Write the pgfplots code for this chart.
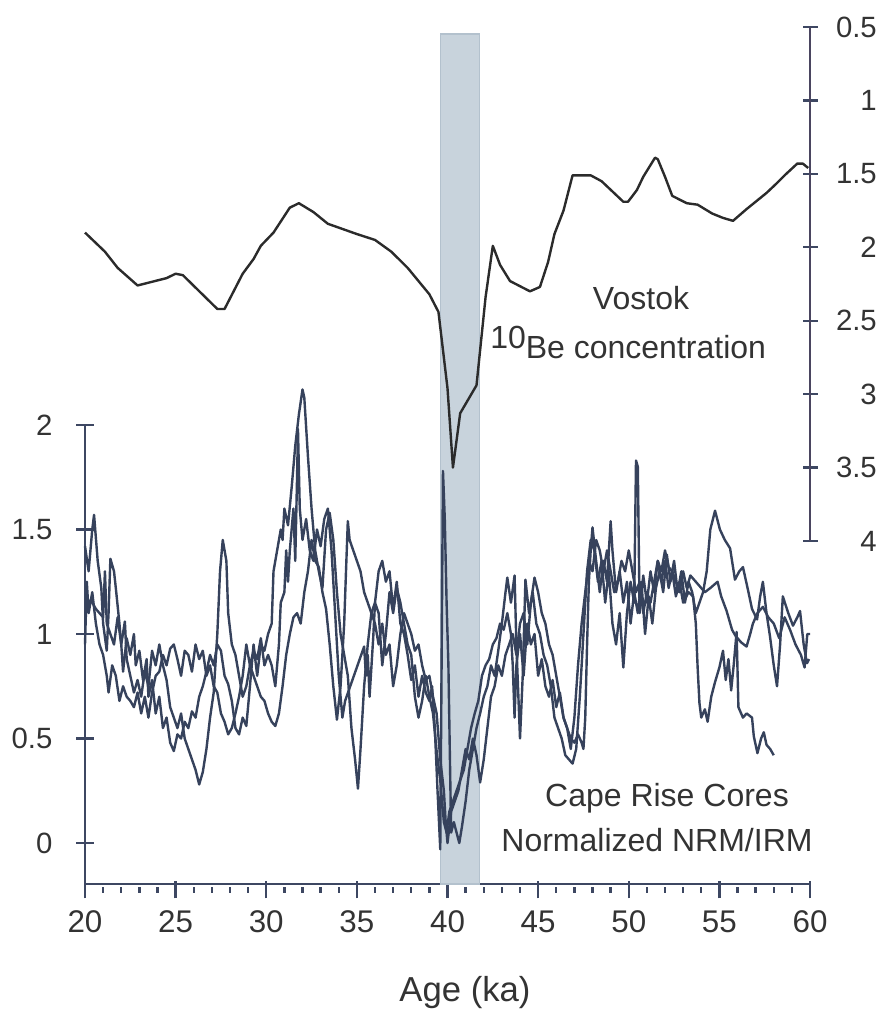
\documentclass[border=0pt]{standalone}
\usepackage{pgfplots}
\pgfplotsset{compat=1.18}
\usepackage{fontspec}
\setmainfont{Liberation Sans}
\definecolor{navy}{HTML}{36425C}
\definecolor{axisc}{HTML}{3D4762}
\definecolor{raxis}{HTML}{4A4560}
\definecolor{bandc}{HTML}{C8D3DC}
\definecolor{bandedge}{HTML}{B3C1CD}
\definecolor{textc}{HTML}{333333}
\definecolor{vost}{HTML}{2B2B2B}
\begin{document}
\begin{tikzpicture}
\path[use as bounding box] (0,0) rectangle (660pt,756.75pt);
\begin{axis}[
  at={(63.75pt,93.75pt)}, anchor=south west,
  width=543.75pt, height=344.25pt, scale only axis,
  xmin=20, xmax=60, ymin=-0.196, ymax=2,
  axis x line=bottom, axis y line=left,
  axis line style={-, draw=axisc, line width=2.2pt},
  xtick={20,25,...,60}, minor x tick num=4,
  ytick={0,0.5,1,1.5,2},
  major tick length=12.75pt, minor tick length=4.5pt,
  tick style={draw=axisc, line width=1.8pt},
  every x tick/.append style={yshift=-4.5pt},
  /pgf/number format/assume math mode=true,
  xticklabel style={font=\fontsize{23.5}{27}\selectfont, text=textc, yshift=-10pt},
  yticklabel style={font=\fontsize{22}{26}\selectfont, text=textc, xshift=-14.5pt},
  clip=false,
]
\addplot[fill=bandc, draw=bandedge, line width=1pt] coordinates {(39.62,-0.196) (41.75,-0.196) (41.75,3.87) (39.62,3.87)} -- cycle;
% Series 1
\addplot[navy, line width=1.8pt, line join=round] coordinates {
(20.0,1.42) (20.2,1.30) (20.4,1.50) (20.5,1.57) (20.7,1.35) (20.9,1.22) (21.0,1.05) (21.2,0.92) (21.3,1.10) (21.4,1.36) (21.6,1.30) (21.7,1.22) (21.9,1.05) (22.0,0.95) (22.1,0.82) (22.3,0.98) (22.5,0.90) (22.7,1.00) (22.8,0.85) (23.0,0.92) (23.2,0.78) (23.4,0.88) (23.5,0.70) (23.7,0.78) (23.9,0.62) (24.1,0.70) (24.3,0.55) (24.5,0.60) (24.7,0.48) (24.9,0.44) (25.1,0.52) (25.3,0.50) (25.5,0.58) (25.7,0.55) (25.9,0.63) (26.1,0.60) (26.3,0.70) (26.5,0.75) (26.7,0.82) (26.9,0.90) (27.1,0.85) (27.3,0.95) (27.5,0.92) (27.7,0.80) (27.9,0.76) (28.1,0.68) (28.3,0.55) (28.5,0.52) (28.7,0.60) (28.9,0.56) (29.1,0.75) (29.3,0.95) (29.5,0.80) (29.7,0.95) (29.9,0.92) (30.1,1.00) (30.3,1.05) (30.4,1.30) (30.6,1.40) (30.8,1.50) (30.9,1.45) (31.0,1.60) (31.2,1.52) (31.4,1.70) (31.6,1.90) (31.8,2.05) (32.0,2.17) (32.1,2.13) (32.3,1.85) (32.5,1.60) (32.7,1.40) (32.9,1.30) (33.1,1.22) (33.3,1.50) (33.5,1.58) (33.7,1.45) (33.9,1.20) (34.1,1.00) (34.3,0.90) (34.5,0.80) (34.7,0.55) (34.9,0.40) (35.06,0.26) (35.2,0.45) (35.4,0.75) (35.6,0.95) (35.8,1.10) (36.0,1.15) (36.2,1.30) (36.4,1.35) (36.6,1.25) (36.8,1.30) (37.0,1.12) (37.2,1.25) (37.4,1.05) (37.6,1.00) (37.8,0.90) (38.0,0.78) (38.2,0.85) (38.4,0.70) (38.6,0.80) (38.8,0.72) (39.0,0.68) (39.15,0.75) (39.3,0.55) (39.45,0.25) (39.6,-0.03) (39.75,1.78) (39.85,1.55) (39.95,1.15) (40.05,0.85) (40.2,0.05) (40.35,0.10) (40.5,0.05) (40.65,0.0) (40.8,0.08) (41.0,0.20) (41.2,0.35) (41.4,0.45) (41.6,0.55) (41.8,0.62) (42.0,0.70) (42.2,0.75) (42.4,0.85) (42.6,0.80) (42.8,0.92) (43.0,1.05) (43.2,1.20) (43.3,1.27) (43.5,1.15) (43.7,1.28) (43.8,0.95) (44.0,0.50) (44.15,0.80) (44.3,1.26) (44.5,1.10) (44.7,1.20) (44.9,1.05) (45.1,1.00) (45.3,0.90) (45.5,0.85) (45.7,0.75) (45.9,0.60) (46.1,0.55) (46.3,0.50) (46.5,0.42) (46.7,0.40) (46.9,0.38) (47.1,0.45) (47.3,0.70) (47.5,1.00) (47.7,1.30) (47.9,1.45) (48.1,1.40) (48.3,1.25) (48.5,1.35) (48.7,1.15) (48.9,1.30) (49.1,1.05) (49.3,0.95) (49.5,1.10) (49.7,0.84) (49.9,1.10) (50.1,1.25) (50.3,1.15) (50.4,1.83) (50.5,1.80) (50.6,1.10) (50.8,1.28) (51.0,1.15) (51.2,1.30) (51.4,1.20) (51.6,1.35) (51.8,1.25) (52.0,1.35) (52.2,1.22) (52.4,1.30) (52.6,1.18) (52.8,1.25) (53.0,1.15) (53.3,1.20) (53.55,1.18) (53.7,1.05) (53.8,0.84) (53.9,0.67) (54.0,0.60) (54.2,0.64) (54.35,0.58) (54.55,0.70) (54.76,0.77) (55.0,0.84) (55.2,0.92) (55.35,0.78) (55.5,0.88) (55.65,0.73) (55.8,0.86) (55.95,1.01) (56.05,0.65) (56.3,0.60) (56.5,0.62) (56.8,0.60) (56.9,0.51) (57.1,0.43) (57.3,0.50) (57.45,0.53) (57.6,0.47) (57.8,0.45) (58.0,0.42)
};
% Series 2
\addplot[navy, line width=1.8pt, line join=round] coordinates {
(20.0,1.16) (20.2,1.16) (20.4,1.15) (20.6,1.12) (20.8,1.10) (21.0,1.08) (21.1,1.30) (21.2,1.05) (21.4,1.00) (21.6,0.95) (21.8,1.08) (22.0,0.95) (22.2,1.06) (22.3,0.88) (22.5,0.80) (22.7,0.72) (22.9,0.78) (23.1,0.70) (23.3,0.82) (23.5,0.75) (23.7,0.92) (23.9,0.85) (24.1,0.95) (24.3,0.85) (24.5,0.78) (24.7,0.65) (24.9,0.60) (25.1,0.55) (25.3,0.62) (25.5,0.50) (25.7,0.45) (25.9,0.40) (26.1,0.35) (26.3,0.28) (26.5,0.34) (26.7,0.45) (26.9,0.60) (27.1,0.72) (27.3,1.00) (27.45,1.30) (27.6,1.45) (27.8,1.35) (27.9,1.10) (28.1,0.95) (28.3,0.90) (28.5,0.80) (28.7,0.70) (28.9,0.75) (29.1,0.85) (29.3,0.92) (29.5,0.88) (29.7,0.98) (29.9,0.85) (30.1,0.90) (30.3,0.85) (30.5,0.75) (30.7,0.95) (30.8,1.15) (31.0,1.20) (31.1,1.40) (31.2,1.25) (31.3,1.40) (31.5,1.60) (31.6,1.35) (31.7,1.75) (31.75,1.98) (31.85,1.60) (32.0,1.45) (32.2,1.55) (32.4,1.40) (32.6,1.35) (32.8,1.50) (33.0,1.42) (33.2,1.55) (33.4,1.60) (33.6,1.40) (33.8,1.10) (34.0,0.80) (34.2,0.60) (34.35,0.68) (35.4,0.94) (35.5,0.80) (35.6,0.90) (35.7,0.70) (35.9,0.98) (36.0,1.15) (36.2,1.10) (36.4,0.85) (36.6,1.00) (36.8,1.20) (37.0,1.10) (37.2,1.22) (37.4,1.15) (37.6,1.05) (37.8,0.95) (38.0,0.90) (38.2,0.70) (38.4,0.60) (38.6,0.68) (38.8,0.80) (39.0,0.70) (39.2,0.62) (39.4,0.44) (39.6,0.30) (39.8,0.10) (39.95,0.05) (40.1,0.15) (40.3,0.20) (40.5,0.25) (40.7,0.30) (40.9,0.35) (41.1,0.45) (41.3,0.55) (41.5,0.62) (41.7,0.68) (41.9,0.80) (42.1,0.85) (42.3,0.88) (42.5,0.95) (42.7,0.98) (42.9,1.05) (43.1,1.02) (43.3,1.10) (43.5,1.00) (43.6,0.85) (43.7,0.60) (43.8,0.85) (44.0,1.00) (44.2,0.80) (44.4,1.05) (44.6,0.95) (44.8,1.00) (45.0,0.80) (45.2,0.88) (45.4,0.75) (45.6,0.70) (45.8,0.78) (46.0,0.65) (46.2,0.72) (46.4,0.60) (46.6,0.55) (46.8,0.50) (47.0,0.48) (47.2,0.52) (47.4,0.48) (47.5,0.45) (47.6,0.60) (47.7,0.95) (47.8,1.25) (47.9,1.40) (48.0,1.51) (48.2,1.35) (48.4,1.20) (48.6,1.35) (48.8,1.25) (49.0,1.54) (49.1,1.40) (49.3,1.20) (49.5,1.30) (49.7,1.15) (49.9,1.25) (50.1,1.05) (50.3,1.20) (50.5,1.10) (50.7,1.25) (50.9,1.00) (51.1,1.18) (51.3,1.05) (51.5,1.22) (51.7,1.30) (51.9,1.20) (52.1,1.38) (52.3,1.25) (52.5,1.35) (52.7,1.20) (52.9,1.30) (53.1,1.15) (53.3,1.25) (53.5,1.20) (53.7,1.10) (53.9,1.15) (54.1,1.20) (54.3,1.30) (54.5,1.50) (54.76,1.59) (55.03,1.50) (55.3,1.45) (55.59,1.41) (55.86,1.26) (56.1,1.30) (56.3,1.32) (56.58,1.21) (56.8,1.12) (57.08,1.07) (57.25,1.18) (57.4,1.25) (57.6,1.10) (57.79,0.99) (58.0,0.85) (58.18,0.75) (58.35,0.95) (58.5,1.18) (58.8,1.10) (59.06,1.04) (59.3,1.08) (59.45,1.11) (59.65,0.95) (59.83,0.86) (59.95,0.88)
};
% Series 3
\addplot[navy, line width=1.8pt, line join=round] coordinates {
(20.0,0.95) (20.1,1.25) (20.2,1.10) (20.4,1.20) (20.6,1.05) (20.8,0.95) (21.0,0.90) (21.2,0.80) (21.3,0.72) (21.5,0.85) (21.7,0.80) (21.9,0.68) (22.1,0.75) (22.3,0.70) (22.5,0.68) (22.7,0.65) (22.9,0.72) (23.1,0.62) (23.3,0.70) (23.5,0.60) (23.7,0.72) (23.9,0.80) (24.1,0.82) (24.3,0.90) (24.5,0.85) (24.7,0.93) (24.9,0.95) (25.1,0.88) (25.3,0.80) (25.5,0.92) (25.7,0.90) (25.9,0.82) (26.1,0.95) (26.3,0.88) (26.5,0.92) (26.7,0.80) (26.9,0.85) (27.1,0.75) (27.3,0.72) (27.5,0.62) (27.7,0.58) (27.9,0.52) (28.1,0.55) (28.3,0.62) (28.5,0.70) (28.7,0.80) (28.9,0.95) (29.1,0.85) (29.3,0.80) (29.5,0.75) (29.7,0.70) (29.9,0.68) (30.1,0.62) (30.3,0.58) (30.5,0.56) (30.7,0.62) (30.9,0.75) (31.1,0.90) (31.3,1.00) (31.5,1.08) (31.7,1.10) (31.9,1.05) (32.1,1.20) (32.3,1.30) (32.5,1.45) (32.7,1.35) (32.9,1.32) (33.1,1.20) (33.3,1.12) (33.5,0.95) (33.7,0.75) (33.9,0.59) (34.1,0.75) (34.3,1.05) (34.4,1.30) (34.5,1.54) (34.6,1.45) (34.8,1.40) (35.0,1.35) (35.2,1.30) (35.4,1.20) (35.6,1.15) (35.8,1.10) (36.0,1.05) (36.2,0.95) (36.4,1.05) (36.6,0.90) (36.8,0.95) (37.0,0.75) (37.2,0.85) (37.4,1.00) (37.6,1.10) (37.8,1.05) (38.0,1.00) (38.2,0.92) (38.4,0.95) (38.6,0.85) (38.8,0.78) (39.0,0.80) (39.2,0.70) (39.4,0.62) (39.6,0.40) (39.8,0.25) (39.9,0.10) (40.0,0.0) (40.2,0.15) (40.4,0.20) (40.6,0.25) (40.8,0.35) (41.0,0.45) (41.2,0.40) (41.4,0.50) (41.6,0.42) (41.8,0.29) (42.0,0.40) (42.2,0.55) (42.4,0.70) (42.6,0.75) (42.8,0.85) (43.0,0.80) (43.2,0.90) (43.4,0.95) (43.6,1.00) (43.8,0.90) (44.0,1.05) (44.2,1.10) (44.4,0.95) (44.6,1.15) (44.8,1.27) (45.0,1.20) (45.2,1.10) (45.4,1.05) (45.6,0.95) (45.8,0.90) (46.0,0.80) (46.2,0.70) (46.4,0.60) (46.6,0.55) (46.8,0.45) (47.0,0.60) (47.2,0.85) (47.4,1.05) (47.6,1.20) (47.8,1.35) (48.0,1.30) (48.2,1.45) (48.4,1.40) (48.6,1.30) (48.8,1.40) (49.0,1.30) (49.2,1.20) (49.4,1.25) (49.6,1.35) (49.8,1.30) (50.0,1.40) (50.2,1.30) (50.4,1.20) (50.6,1.25) (50.8,1.10) (51.0,1.20) (51.2,1.15) (51.4,1.25) (51.6,1.35) (51.8,1.30) (52.0,1.40) (52.2,1.32) (52.4,1.30) (52.6,1.25) (52.8,1.20) (53.0,1.30) (53.2,1.22) (53.4,1.28) (53.8,1.24) (54.2,1.20) (54.5,1.22) (54.9,1.25) (55.1,1.18) (55.4,1.11) (55.7,1.02) (55.9,0.99) (56.2,0.96) (56.5,0.94) (56.7,1.00) (56.85,1.05) (57.1,1.10) (57.4,1.13) (57.7,1.08) (58.0,1.05) (58.3,0.98) (58.6,1.08) (58.9,1.02) (59.2,0.95) (59.5,0.90) (59.7,0.84) (59.85,1.00) (60.0,1.00)
};
\end{axis}
\begin{axis}[
  at={(63.75pt,351pt)}, anchor=south west,
  width=543.75pt, height=385.5pt, scale only axis,
  xmin=20, xmax=60, ymin=0.5, ymax=4, y dir=reverse,
  axis x line=none, axis y line=right,
  axis line style={-, draw=raxis, line width=2.2pt},
  ytick={0.5,1,1.5,2,2.5,3,3.5,4},
  major tick length=11.25pt,
  tick style={draw=axisc, line width=1.8pt},
  /pgf/number format/assume math mode=true,
  yticklabel style={font=\fontsize{22}{26}\selectfont, text=textc, anchor=east, xshift=48pt},
  clip=false,
]
\addplot[vost, line width=1.8pt, line join=round] coordinates {
(20.0,1.90) (21.1,2.03) (21.8,2.14) (22.9,2.26) (24.5,2.21) (25.0,2.18) (25.4,2.19) (27.3,2.42) (27.7,2.42) (28.7,2.18) (29.3,2.08) (29.7,1.99) (30.4,1.90) (31.3,1.73) (31.8,1.70) (32.6,1.76) (33.4,1.84) (35.0,1.91) (36.0,1.95) (36.9,2.03) (37.8,2.14) (38.6,2.26) (39.0,2.32) (39.5,2.44) (40.0,2.96) (40.3,3.50) (40.7,3.13) (41.6,2.94) (42.1,2.34) (42.5,1.99) (42.9,2.12) (43.45,2.23) (44.55,2.30) (45.1,2.27) (45.55,2.10) (45.9,1.91) (46.4,1.75) (46.9,1.51) (47.9,1.51) (48.5,1.55) (49.7,1.69) (49.96,1.69) (50.45,1.61) (50.8,1.52) (51.45,1.39) (51.6,1.40) (52.0,1.52) (52.4,1.65) (53.2,1.70) (53.8,1.71) (54.6,1.77) (55.2,1.80) (55.75,1.82) (56.5,1.74) (57.6,1.63) (58.2,1.56) (58.6,1.51) (59.3,1.43) (59.6,1.43) (59.9,1.46)
};
\end{axis}
\begin{scope}[every node/.style={text=textc, font=\fontsize{24}{28}\selectfont}]
\node at (480.75pt,533.25pt) {Vostok};
\node[anchor=base west, inner sep=0pt] at (367.5pt,487.5pt) {\raisebox{7.5pt}{10}Be concentration};
\node at (500.25pt,158.25pt) {Cape Rise Cores};
\node at (492.75pt,126.75pt) {Normalized NRM/IRM};
\node[font=\fontsize{26}{30}\selectfont] at (348.75pt,12pt) {Age (ka)};
\end{scope}
\end{tikzpicture}
\end{document}
